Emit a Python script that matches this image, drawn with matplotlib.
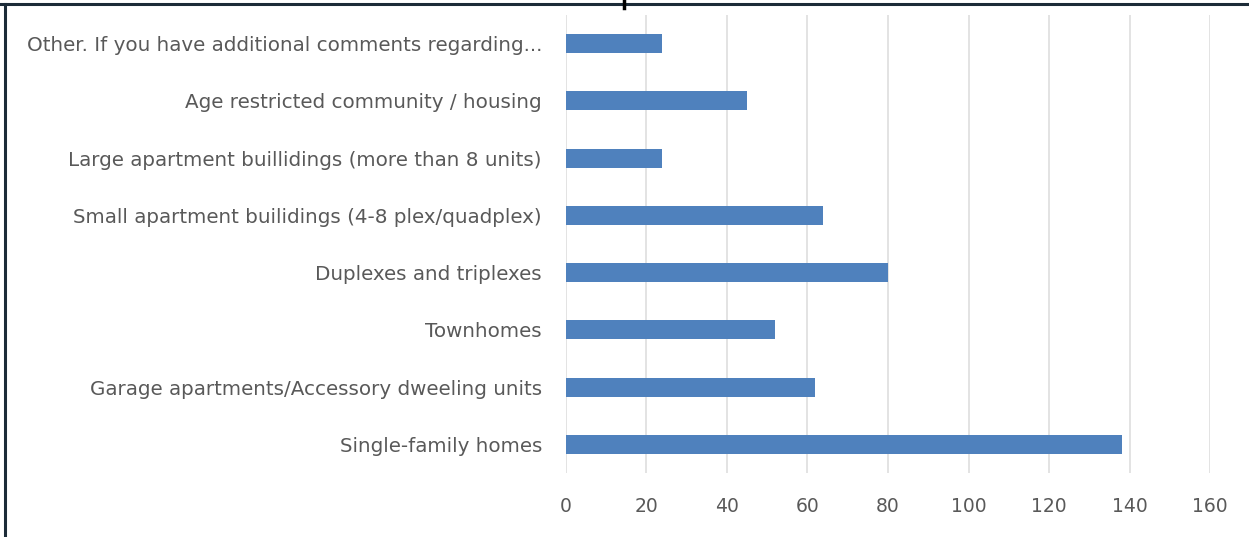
import matplotlib
matplotlib.use("Agg")
import matplotlib.pyplot as plt
from matplotlib.lines import Line2D

# survey answers, bottom to top as drawn
categories = [
    "Single-family homes",
    "Garage apartments/Accessory dweeling units",
    "Townhomes",
    "Duplexes and triplexes",
    "Small apartment builidings (4-8 plex/quadplex)",
    "Large apartment buillidings (more than 8 units)",
    "Age restricted community / housing",
    "Other. If you have additional comments regarding...",
]
counts = [138, 62, 52, 80, 64, 24, 45, 24]
xticks = [0, 20, 40, 60, 80, 100, 120, 140, 160]

plt.rcParams['font.family'] = ['DejaVu Sans']
text_grey = "#595959"

fig = plt.figure(figsize=(12.49, 5.37), dpi=100)
ax = fig.add_axes([0.4528, 0.1192, 0.969 - 0.4528, 0.972 - 0.1192])

ax.barh(range(len(categories)), counts, height=0.33, color="#4f81bd", zorder=3)

ax.set_xlim(0, 160)
ax.set_ylim(-0.5, len(categories) - 0.5)
ax.set_xticks(xticks)
ax.set_yticks(range(len(categories)))
ax.set_yticklabels(categories)
ax.xaxis.grid(True, color="#dedede", linewidth=1.2, zorder=0)

for s in ax.spines.values():
    s.set_visible(False)
ax.tick_params(axis="both", length=0, colors=text_grey)
ax.tick_params(axis="y", pad=17, labelsize=14.35)
ax.tick_params(axis="x", pad=17, labelsize=13.5)

# border left over from the cropped chart frame
frame = "#1c2b38"
fig.add_artist(Line2D([0, 1], [1 - 4 / 537, 1 - 4 / 537], color=frame, lw=2.2,
                      transform=fig.transFigure))
fig.add_artist(Line2D([5 / 1249, 5 / 1249], [0, 1 - 4 / 537], color=frame, lw=2.2,
                      transform=fig.transFigure))
fig.add_artist(Line2D([624 / 1249, 624 / 1249], [1, 1 - 8 / 537], color="black", lw=2.5,
                      transform=fig.transFigure))

fig.savefig("out.png", dpi=100)
